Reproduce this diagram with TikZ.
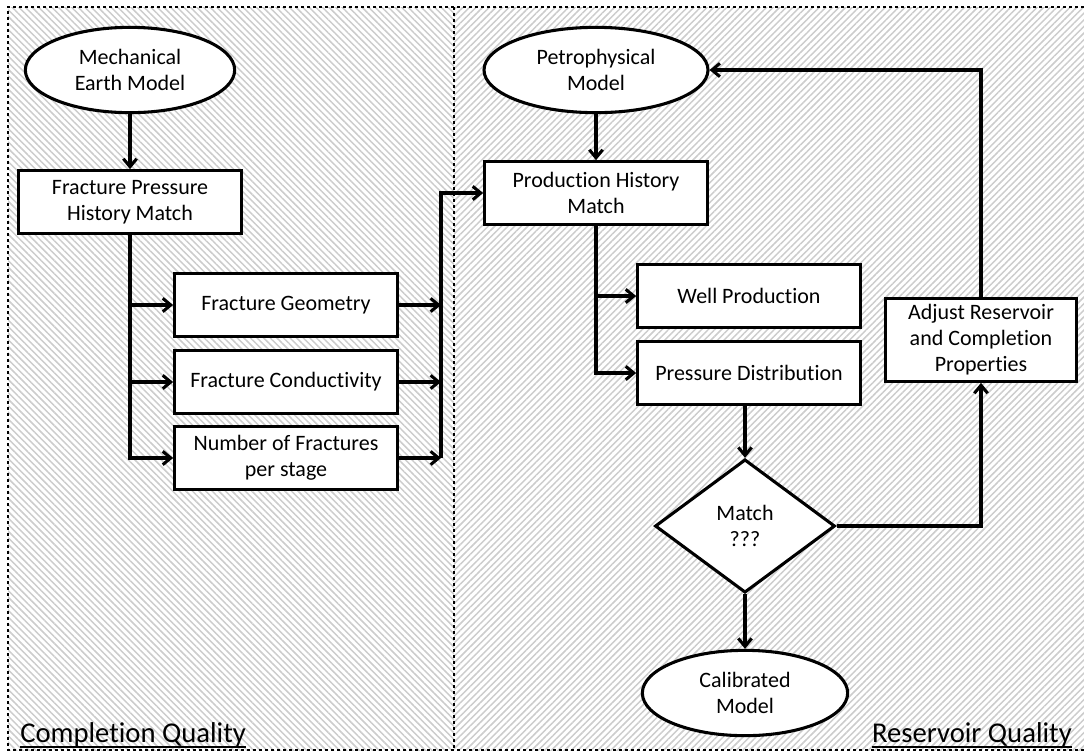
\documentclass[tikz,border=0pt]{standalone}
\usepackage{fontspec}
\setmainfont[Ligatures=NoCommon]{Carlito}
\usetikzlibrary{shapes.geometric,arrows.meta,patterns.meta}

\tikzset{
	box/.style={draw, line width=2.3pt, fill=white, minimum width=167pt, minimum height=47pt, inner sep=0pt},
	oval/.style={draw, ellipse, line width=2.3pt, fill=white, inner sep=0pt, minimum height=64pt},
	ask/.style={draw, diamond, line width=2.3pt, fill=white, minimum width=135pt, minimum height=100pt, inner sep=0pt},
	flow/.style={line width=2.3pt, -{Straight Barb[length=6pt,width=10pt,line width=2.3pt]}},
	zone/.style={font=\fontsize{21.5}{24}\selectfont, inner sep=0pt},
	hatch/.style={pattern={Lines[angle=#1,distance=3.5pt,line width=1.1pt]}, pattern color=gray!40},
	frame/.style={line width=2pt, dash pattern=on 2pt off 2.5pt}
}

\begin{document}
\begin{tikzpicture}[x=0.75pt,y=-0.75pt,
	every node/.append style={font=\fontsize{16.5}{19.5}\selectfont, align=center}]
	\useasboundingbox (0,0) rectangle (1084,754);
	\fill[white] (0,0) rectangle (1084,754);

	% the two hatched zones and their dotted frame
	\path[hatch=-45] (8,7) rectangle (454,750);
	\path[hatch=45]  (454,7) rectangle (1084,750);
	\draw[frame] (1084,7) -- (8,7) -- (8,750) -- (1084,750);
	\draw[frame] (454,7) -- (454,750);

	% completion side
	\node[oval, minimum width=157pt] (mem) at (130,70) {Mechanical\\Earth Model};
	\node[box] (fphm) at (130,202) {Fracture Pressure\\History Match};
	\node[box] (geo)  at (286,305) {Fracture Geometry};
	\node[box] (cond) at (286,382) {Fracture Conductivity};
	\node[box] (num)  at (286,458) {Number of Fractures\\per stage};

	% reservoir side
	\node[oval, minimum width=168pt] (petro) at (596,70) {Petrophysical\\Model};
	\node[box] (phm)   at (596,193) {Production History\\Match};
	\node[box] (well)  at (749,296) {Well Production};
	\node[box] (press) at (749,373) {Pressure Distribution};
	\node[ask] (match) at (745,526) {Match\\???};
	\node[oval, minimum width=154pt] (calib) at (745,693) {Calibrated\\Model};
	\node[box, minimum width=143pt, minimum height=62pt] (adjust) at (981,340)
		{Adjust Reservoir\\and Completion\\Properties};

	% connectors
	\draw[flow] (mem) -- (fphm);
	\coordinate (bus) at (441,0);
	\foreach \n in {geo,cond,num}{%
		\draw[flow] (fphm.south) |- (\n.west);
		\draw[flow] (\n.east) -- (\n.east -| bus);
		}
	\draw[flow] (num.east -| bus) |- (phm.west);
	\draw[flow] (petro) -- (phm);
	\foreach \n in {well,press}
		\draw[flow] (phm.south) |- (\n.west);
	\draw[flow] (match.north |- press.south) -- (match.north);
	\draw[flow] (match) -- (calib);
	\draw[flow] (match.east) -| (adjust.south);
	\draw[flow] (adjust.north) |- (petro.east);

	% zone titles
	\node[zone, anchor=base west] (cq) at (20,742) {Completion Quality};
	\node[zone, anchor=base east] (rq) at (1072,742) {Reservoir Quality};
	\draw[line width=1.3pt] ([yshift=-3.5pt]cq.base west) -- ([yshift=-3.5pt]cq.base east);
	\draw[line width=1.3pt] ([yshift=-3.5pt]rq.base west) -- ([yshift=-3.5pt]rq.base east);
\end{tikzpicture}
\end{document}
